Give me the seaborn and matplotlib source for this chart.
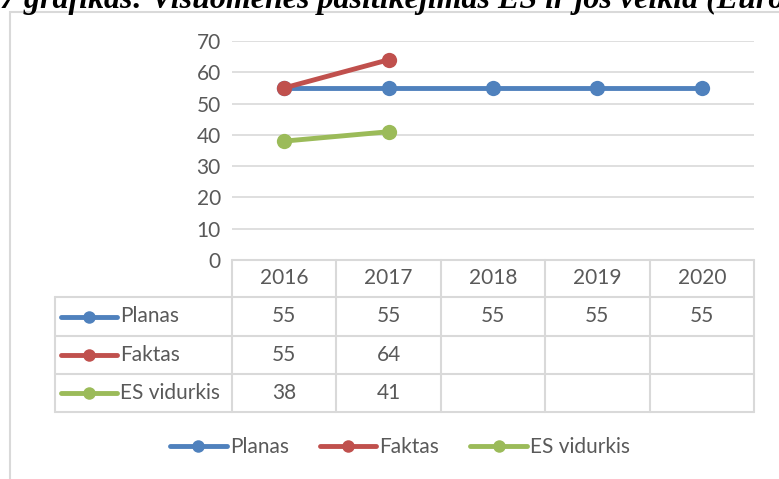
import pandas as pd
import matplotlib.pyplot as plt
import seaborn as sns
from matplotlib.lines import Line2D
from matplotlib.patches import Rectangle

# Duomenys
metai = ['2016', '2017', '2018', '2019', '2020']
planas = [55, 55, 55, 55, 55]
faktas = [55, 64]
es_vidurkis = [38, 41]
serijos = ['Planas', 'Faktas', 'ES vidurkis']
spalvos = ['#4F81BD', '#C0504D', '#9BBB59']
y_ticks = [0, 10, 20, 30, 40, 50, 60, 70]
pavadinimas = '7 grafikas: Visuomenės pasitikėjimas ES ir jos veikla (Eurobarometras)'

reiksmes = [planas, faktas, es_vidurkis]
df = pd.concat([
    pd.DataFrame({'poz': range(len(v)), 'reiksme': v, 'serija': s})
    for s, v in zip(serijos, reiksmes)
], ignore_index=True)

sns.set_theme(style="white")
plt.rcParams['font.family'] = ['Lato', 'DejaVu Sans']
tekstas = '#595959'
tinklelis = '#D9D9D9'
fs = 15

W, H = 779, 479
fig = plt.figure(figsize=(W / 100, H / 100), dpi=100)

def fx(x):
    return x / W

def fy(y):
    return 1 - y / H

# grafiko sritis
x0, x1, ytop, ybot = 232, 754, 41, 260
ax = fig.add_axes([fx(x0), fy(ybot), fx(x1 - x0), (ybot - ytop) / H])
for s, c in zip(serijos, spalvos):
    sns.lineplot(data=df[df['serija'] == s], x='poz', y='reiksme', color=c,
                 marker='o', markersize=11, markeredgewidth=0, linewidth=3.5,
                 ax=ax, legend=False)
ax.set_xlim(-0.5, len(metai) - 0.5)
ax.set_ylim(0, 70)
ax.set_yticks(y_ticks)
ax.set_xticks([])
ax.set_xlabel('')
ax.set_ylabel('')
ax.tick_params(axis='y', length=0, pad=8, labelsize=fs, labelcolor=tekstas)
for v in y_ticks[1:]:
    ax.axhline(v, color=tinklelis, lw=1.2, zorder=0)
sns.despine(ax=ax, left=True, bottom=True)

# išorinis rėmelis
fig.add_artist(Rectangle((fx(10), fy(H + 20)), fx(W + 20), (H + 8) / H,
                         transform=fig.transFigure, fill=False,
                         edgecolor=tinklelis, lw=1.5))

# pavadinimas (apkirptas viršuje, kaip originale)
fig.text(fx(0), fy(8), pavadinimas, family='Liberation Serif', fontsize=23,
         fontweight='bold', fontstyle='italic', va='baseline', ha='left',
         color='black')

# duomenų lentelė
row_y = [260, 297, 336, 374, 412]
col_x = [x0 + i * (x1 - x0) / len(metai) for i in range(len(metai) + 1)]
lx = 55

def linija(xs, ys):
    fig.add_artist(Line2D([fx(x) for x in xs], [fy(y) for y in ys],
                          color=tinklelis, lw=1.5, transform=fig.transFigure))

linija([x0, x1], [row_y[0], row_y[0]])
for y in row_y[1:]:
    linija([lx, x1], [y, y])
for x in col_x:
    linija([x, x], [row_y[0], row_y[-1]])
linija([lx, lx], [row_y[1], row_y[-1]])

for i, m in enumerate(metai):
    cx = (col_x[i] + col_x[i + 1]) / 2
    fig.text(fx(cx), fy((row_y[0] + row_y[1]) / 2), m, ha='center',
             va='center', fontsize=fs, color=tekstas)

for r, (s, c, v) in enumerate(zip(serijos, spalvos, reiksmes)):
    cy = (row_y[r + 1] + row_y[r + 2]) / 2
    fig.add_artist(Line2D([fx(61), fx(117)], [fy(cy), fy(cy)], color=c,
                          lw=3.5, solid_capstyle='round',
                          transform=fig.transFigure))
    fig.add_artist(Line2D([fx(89)], [fy(cy)], color=c, marker='o',
                          markersize=9, markeredgewidth=0,
                          transform=fig.transFigure))
    fig.text(fx(120), fy(cy), s, ha='left', va='center', fontsize=fs,
             color=tekstas)
    for i, val in enumerate(v):
        cx = (col_x[i] + col_x[i + 1]) / 2
        fig.text(fx(cx), fy(cy), str(val), ha='center', va='center',
                 fontsize=fs, color=tekstas)

# legenda
rankenos = [Line2D([0], [0], color=c, lw=3.5, marker='o', markersize=9,
                   markeredgewidth=0, solid_capstyle='round') for c in spalvos]
fig.legend(rankenos, serijos, loc='center', bbox_to_anchor=(fx(400), fy(447)),
           ncol=3, frameon=False, fontsize=fs, labelcolor=tekstas,
           handlelength=2.7, handletextpad=0.15, columnspacing=1.5)

fig.savefig('out.png', dpi=100)
